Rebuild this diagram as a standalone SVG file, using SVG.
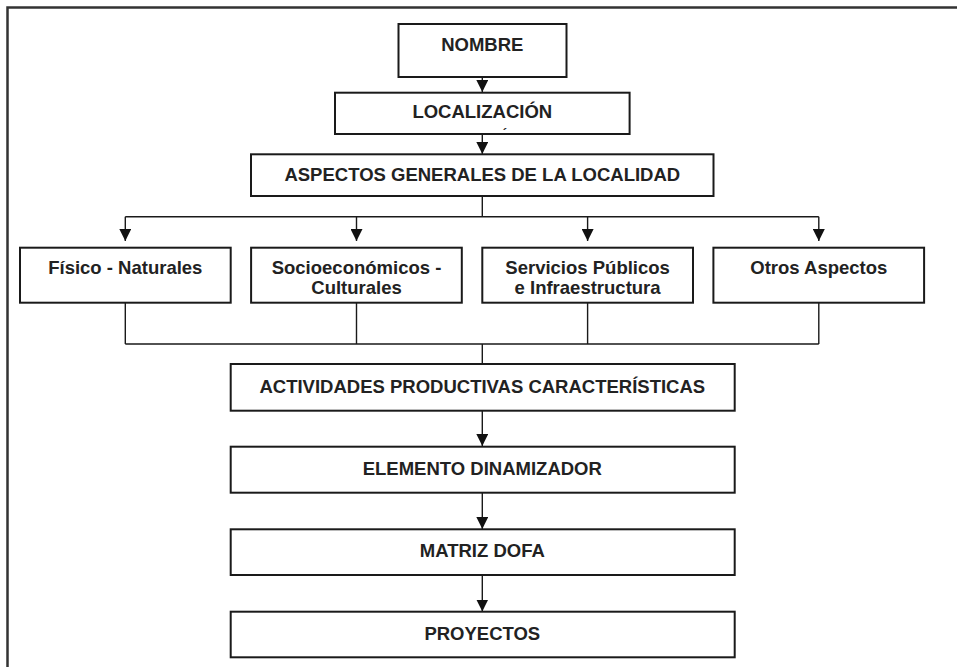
<svg xmlns="http://www.w3.org/2000/svg" width="957" height="667" viewBox="0 0 957 667">
<defs>
<style>
.box{fill:#fff;stroke:#1a1a1a;stroke-width:2}
.t{font-family:"Liberation Sans",Arial,sans-serif;font-weight:bold;font-size:18.5px;fill:#222;text-anchor:middle}
.c{fill:none;stroke:#1a1a1a;stroke-width:1.4}
</style>
<marker id="ah" markerWidth="12" markerHeight="12" viewBox="0 0 12 12" refX="12" refY="6" orient="auto" markerUnits="userSpaceOnUse">
<path d="M0,0 L12,6 L0,12 Z" fill="#111"/>
</marker>
</defs>
<rect width="957" height="667" fill="#fff"/>
<path d="M7.5,667 V7.5 H957" fill="none" stroke="#333" stroke-width="2.5"/>
<g id="connectors">
<line class="c" x1="482.3" y1="77" x2="482.3" y2="92" marker-end="url(#ah)"/>
<line class="c" x1="482.3" y1="134" x2="482.3" y2="154" marker-end="url(#ah)"/>
<path class="c" d="M482.3,196 V216.7 M125.3,216.7 H818.8"/>
<line class="c" x1="125.3" y1="216.7" x2="125.3" y2="241" marker-end="url(#ah)"/>
<line class="c" x1="356.5" y1="216.7" x2="356.5" y2="241" marker-end="url(#ah)"/>
<line class="c" x1="587.6" y1="216.7" x2="587.6" y2="241" marker-end="url(#ah)"/>
<line class="c" x1="818.8" y1="216.7" x2="818.8" y2="241" marker-end="url(#ah)"/>
<path class="c" d="M125.3,302.7 V344 M356.5,302.7 V344 M587.6,302.7 V344 M818.8,302.7 V344 M125.3,344 H818.8 M482.3,344 V364"/>
<line class="c" x1="482.3" y1="410.7" x2="482.3" y2="446" marker-end="url(#ah)"/>
<line class="c" x1="482.3" y1="492.7" x2="482.3" y2="529" marker-end="url(#ah)"/>
<line class="c" x1="482.3" y1="575" x2="482.3" y2="611.5" marker-end="url(#ah)"/>
</g>
<g id="nombre">
<rect class="box" x="398.5" y="24" width="168" height="53"/>
<text class="t" x="482.3" y="51">NOMBRE</text>
</g>
<g id="localizacion">
<rect class="box" x="335" y="92.7" width="294.6" height="41.3"/>
<text class="t" x="482.3" y="118.3">LOCALIZACIÓN</text>
<text class="t" x="505" y="138" style="font-size:13px">´</text>
</g>
<g id="aspectos">
<rect class="box" x="251" y="154.3" width="462.5" height="41.7"/>
<text class="t" x="482.3" y="181">ASPECTOS GENERALES DE LA LOCALIDAD</text>
</g>
<g id="fisico">
<rect class="box" x="20" y="247.7" width="210.7" height="55"/>
<text class="t" x="125.3" y="274">Físico - Naturales</text>
</g>
<g id="socio">
<rect class="box" x="251.1" y="247.7" width="210.7" height="55"/>
<text class="t" x="356.5" y="274">Socioeconómicos -</text>
<text class="t" x="356.5" y="293.5">Culturales</text>
</g>
<g id="servicios">
<rect class="box" x="482.3" y="247.7" width="210.7" height="55"/>
<text class="t" x="587.6" y="274">Servicios Públicos</text>
<text class="t" x="587.6" y="293.5">e Infraestructura</text>
</g>
<g id="otros">
<rect class="box" x="713.4" y="247.7" width="210.7" height="55"/>
<text class="t" x="818.8" y="274">Otros Aspectos</text>
</g>
<g id="actividades">
<rect class="box" x="230.7" y="364" width="504" height="46.7"/>
<text class="t" x="482.3" y="393">ACTIVIDADES PRODUCTIVAS CARACTERÍSTICAS</text>
</g>
<g id="elemento">
<rect class="box" x="230.7" y="446.7" width="504" height="46"/>
<text class="t" x="482.3" y="475">ELEMENTO DINAMIZADOR</text>
</g>
<g id="matriz">
<rect class="box" x="230.7" y="529.3" width="504" height="45.7"/>
<text class="t" x="482.3" y="556.5">MATRIZ DOFA</text>
</g>
<g id="proyectos">
<rect class="box" x="230.7" y="611.7" width="504" height="45.6"/>
<text class="t" x="482.3" y="639.5">PROYECTOS</text>
</g>
</svg>
